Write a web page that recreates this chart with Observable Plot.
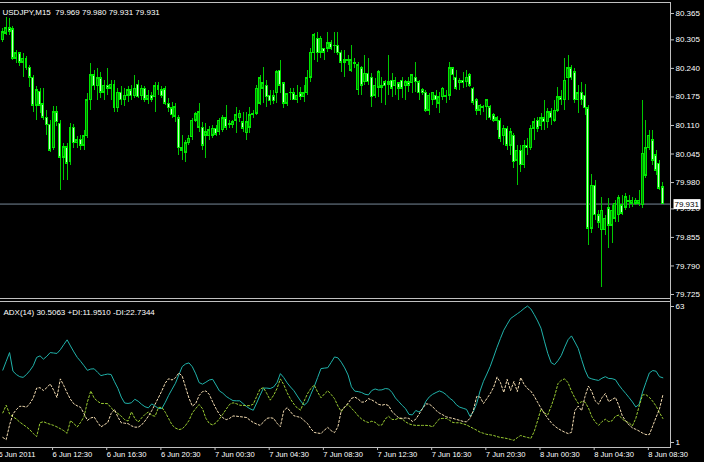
<!DOCTYPE html>
<html><head><meta charset="utf-8">
<script src="https://cdn.jsdelivr.net/npm/d3@7"></script>
<script src="https://cdn.jsdelivr.net/npm/@observablehq/plot@0.6"></script>
<style>
html,body{margin:0;padding:0;background:#000;}
#chart{position:relative;width:704px;height:462px;overflow:hidden;background:#000;}
#chart svg{display:block}
#chart svg text{white-space:pre}
#vline{position:absolute;left:670px;top:2px;width:1px;height:446px;background:#c0c0c0;}
</style></head><body><div id="chart"></div>
<script>
// USDJPY M15, 6 Jun 2011 08:45 .. 8 Jun 2011 09:30 (196 bars)
const open = [80.304,80.319,80.331,80.329,80.262,80.274,80.253,80.262,80.242,80.219,
80.155,80.187,80.158,80.128,80.112,80.058,80.140,80.114,80.037,80.060,
80.026,80.105,80.069,80.078,80.064,80.085,80.167,80.224,80.199,80.217,
80.185,80.201,80.194,80.203,80.149,80.185,80.167,80.178,80.190,80.176,
80.203,80.176,80.194,80.169,80.178,80.174,80.199,80.190,80.192,80.160,
80.149,80.130,80.126,80.058,80.048,80.069,80.083,80.121,80.105,80.105,
80.087,80.085,80.087,80.103,80.094,80.099,80.126,80.110,80.110,80.121,
80.126,80.117,80.092,80.105,80.133,80.137,80.160,80.194,80.201,80.178,
80.176,80.183,80.235,80.206,80.160,80.183,80.183,80.167,80.183,80.174,
80.183,80.219,80.274,80.308,80.276,80.285,80.285,80.297,80.290,80.292,
80.276,80.258,80.258,80.235,80.253,80.190,80.240,80.208,80.228,80.219,
80.178,80.196,80.201,80.208,80.203,80.212,80.199,80.206,80.212,80.199,
80.208,80.206,80.219,80.208,80.190,80.185,80.144,80.167,80.178,80.160,
80.174,80.178,80.178,80.240,80.219,80.206,80.212,80.208,80.224,80.194,
80.167,80.144,80.151,80.151,80.151,80.133,80.126,80.121,80.085,80.103,
80.064,80.087,80.030,80.053,80.019,80.064,80.058,80.103,80.121,80.108,
80.126,80.117,80.140,80.121,80.144,80.174,80.167,80.217,80.240,80.231,
80.167,80.185,80.178,80.149,79.875,79.973,79.905,79.871,79.871,79.921,
79.882,79.898,79.905,79.928,79.923,79.935,79.932,79.932,79.932,79.928,
79.996,80.058,80.076,80.042,80.023,79.969];

const high = [80.331,80.356,80.354,80.335,80.281,80.276,80.274,80.267,80.247,80.224,
80.199,80.194,80.194,80.144,80.121,80.153,80.153,80.121,80.069,80.069,
80.114,80.112,80.085,80.087,80.099,80.183,80.251,80.235,80.240,80.231,
80.212,80.240,80.212,80.212,80.194,80.199,80.194,80.199,80.201,80.224,
80.212,80.201,80.199,80.190,80.185,80.208,80.208,80.199,80.199,80.171,
80.162,80.160,80.133,80.087,80.076,80.087,80.126,80.140,80.160,80.117,
80.114,80.108,80.110,80.110,80.126,80.133,80.155,80.121,80.121,80.151,
80.144,80.140,80.140,80.151,80.144,80.201,80.224,80.242,80.212,80.190,
80.190,80.235,80.258,80.206,80.183,80.194,80.194,80.201,80.196,80.201,
80.235,80.285,80.319,80.322,80.313,80.285,80.322,80.304,80.322,80.322,
80.281,80.281,80.269,80.292,80.262,80.253,80.244,80.269,80.262,80.228,
80.217,80.235,80.219,80.212,80.269,80.228,80.219,80.208,80.219,80.212,
80.219,80.224,80.253,80.212,80.194,80.190,80.183,80.185,80.190,80.185,
80.196,80.190,80.253,80.242,80.235,80.217,80.231,80.235,80.228,80.196,
80.171,80.158,80.155,80.167,80.155,80.137,80.130,80.126,80.110,80.108,
80.103,80.092,80.064,80.064,80.076,80.080,80.110,80.126,80.128,80.137,
80.167,80.149,80.149,80.167,80.196,80.190,80.262,80.269,80.247,80.240,
80.201,80.208,80.203,80.155,79.998,79.985,79.916,79.946,79.905,79.944,
79.928,79.939,79.950,79.950,79.955,79.950,79.946,79.944,79.962,80.167,
80.121,80.099,80.099,80.053,80.030,79.980];

const low = [80.299,80.315,80.315,80.258,80.251,80.244,80.219,80.235,80.196,80.140,
80.121,80.137,80.121,80.087,80.048,80.053,80.108,79.962,79.985,79.985,
80.019,80.058,80.058,80.053,80.053,80.080,80.144,80.190,80.167,80.171,
80.167,80.178,80.167,80.140,80.140,80.155,80.153,80.162,80.167,80.171,
80.171,80.167,80.162,80.158,80.162,80.140,80.178,80.171,80.155,80.140,
80.126,80.117,80.042,80.030,80.026,80.064,80.076,80.117,80.094,80.053,
80.035,80.076,80.080,80.085,80.087,80.094,80.099,80.103,80.103,80.092,
80.117,80.094,80.076,80.092,80.126,80.133,80.155,80.160,80.151,80.155,
80.158,80.160,80.183,80.149,80.153,80.167,80.167,80.160,80.167,80.162,
80.178,80.208,80.258,80.253,80.262,80.258,80.276,80.281,80.274,80.269,
80.231,80.219,80.247,80.231,80.240,80.178,80.178,80.201,80.201,80.151,
80.171,80.174,80.160,80.155,80.178,80.174,80.178,80.167,80.171,80.167,
80.185,80.183,80.185,80.167,80.178,80.140,80.133,80.155,80.149,80.137,
80.167,80.160,80.167,80.212,80.190,80.190,80.194,80.196,80.196,80.155,
80.133,80.133,80.140,80.121,80.121,80.117,80.099,80.071,80.064,80.053,
80.042,80.012,79.973,80.003,80.012,80.042,80.053,80.076,80.094,80.099,
80.099,80.103,80.110,80.117,80.140,80.155,80.144,80.167,80.212,80.160,
80.137,80.155,80.133,79.837,79.864,79.893,79.875,79.741,79.859,79.830,
79.841,79.889,79.889,79.905,79.916,79.921,79.923,79.928,79.925,79.921,
79.989,80.053,80.019,79.996,79.962,79.931];

const close = [80.322,80.331,80.324,80.262,80.274,80.253,80.262,80.242,80.219,80.155,
80.190,80.155,80.128,80.110,80.053,80.140,80.117,80.037,80.060,80.023,
80.105,80.069,80.076,80.064,80.085,80.167,80.224,80.199,80.217,80.185,
80.201,80.194,80.203,80.149,80.185,80.167,80.178,80.190,80.176,80.194,
80.174,80.194,80.169,80.178,80.169,80.199,80.190,80.176,80.160,80.149,
80.133,80.151,80.058,80.053,80.069,80.080,80.121,80.135,80.140,80.064,
80.094,80.099,80.103,80.089,80.121,80.126,80.105,80.114,80.117,80.133,
80.137,80.103,80.117,80.133,80.137,80.194,80.217,80.206,80.174,80.165,
80.165,80.231,80.201,80.160,80.181,80.185,80.167,80.178,80.174,80.183,
80.217,80.276,80.315,80.274,80.308,80.276,80.297,80.285,80.292,80.274,
80.253,80.253,80.256,80.258,80.251,80.247,80.201,80.228,80.208,80.174,
80.201,80.231,80.196,80.199,80.208,80.194,80.212,80.194,80.194,80.208,
80.201,80.224,80.208,80.183,80.183,80.144,80.178,80.185,80.167,80.174,
80.194,80.174,80.240,80.224,80.194,80.212,80.206,80.219,80.201,80.162,
80.144,80.155,80.149,80.167,80.126,80.121,80.121,80.080,80.103,80.064,
80.094,80.026,80.053,80.019,80.064,80.058,80.103,80.117,80.103,80.126,
80.117,80.140,80.126,80.144,80.174,80.167,80.212,80.240,80.217,80.167,
80.183,80.167,80.149,79.875,79.973,79.905,79.889,79.916,79.898,79.882,
79.916,79.932,79.944,79.909,79.946,79.939,79.939,79.939,79.939,80.046,
80.058,80.087,80.030,80.007,79.966,79.931];

const adx = [34,38,42,33.5,32,31,30.7,32,33.8,36,39.8,40.5,39,40.3,42,41.8,41.6,43.3,45.6,47.8,
45,42.3,39.8,38,36,33.9,34.5,34.6,33,31.5,31.9,32.2,32,28.7,25.7,21.7,19,18.8,19.1,20.7,
19.8,18.4,17.3,16.8,18.6,17.6,16.5,16.5,19.3,22.5,25.3,28,31.8,35.6,36.8,37.3,35.5,32.3,28.3,27.6,
28.5,29.5,29.8,27.2,24.5,23.5,22,21,20.1,20,20,18.7,17.4,16.4,15.7,19,22.5,25.8,25.8,25.6,
26.3,28.3,32.4,30.6,28.2,26.3,24.6,22.2,19.9,18,19.3,23,26.5,30.6,34.7,34.9,35.1,37.5,40,39.6,
37.6,35,31.8,26.4,24.4,24.2,23.8,23,22.7,24.7,25.4,24.9,25,25.6,25.4,23.8,21.3,19.6,17.9,16.4,
13.8,13.6,15.6,14.9,16.5,19.8,21.8,23,23.8,24.5,23.9,22.8,21.2,20.1,18.2,17.1,16.6,16.1,13,15,
18.8,24.5,28.9,32.2,35.7,40,44.4,48.4,52.2,54.9,57.5,58.6,59.7,60.8,62.1,63.2,61.9,59.3,56.4,53.1,
47.2,41.6,37.4,36.5,38.3,40.7,44.5,47.9,49.6,46.8,43.9,38.8,34,30.6,30,29.6,29.3,30.3,31,30.2,
30.1,29.6,27.2,25.2,23.4,21.5,19.5,17.2,18.4,24,28.4,32.7,33.8,33.5,31,30.5];

const plusDI = [14.5,18,14,12.7,11.7,10.3,9.2,8.1,6.8,5.1,3.7,10,10.5,9.8,9.3,8.8,8.1,7.3,6.4,5.2,
11,9.6,8.1,10.2,12.8,19.5,24.5,21.2,19.8,18.8,18.8,18.7,16.8,15.3,14.2,13,11.4,10.8,15,12,
10.3,12.2,13.8,14.9,13.3,13,17,17,14.8,11.9,9,7.6,6.9,7.2,8.8,11,14.5,16.5,18.3,16.4,
12,9.7,9,10,11.8,13.9,16.2,18.4,19.1,18.7,18,17.9,17.8,17.8,18.5,22,25.4,26,23.3,20.3,
22.5,25.6,30,27.4,23.7,20.8,18.5,16.7,15.8,19.8,23.2,25.6,27.2,24,21.4,23.1,24.6,22.9,21,17.6,
15.1,17.1,18.4,16.6,15,13.1,11.7,10.7,10.1,10.7,10.2,8.9,9,11.8,12.9,11.5,11.5,12.1,11.7,10.4,
9.5,9,8.8,8.8,8.8,8.8,8.7,8.1,10,11.8,12,12,11.1,10.1,10,10,9.5,9,8.2,7.4,
6.6,5.7,5.2,4.7,4.5,4.2,3.7,3.3,3.1,2.8,2.4,2,3.2,4.2,3.7,3.3,2.9,6,11,16.3,
14.5,13.6,17.5,22,27.8,29.4,30,28.2,24.4,21.3,18.8,19.6,19.4,16.8,12.8,10.4,8.8,10.5,11.6,10.5,
10.9,13,13.5,11.7,10.6,10,8.6,12,17.6,22.7,22.8,21.6,19.8,17.6,14.6,11.95];

const minusDI = [3.3,2.3,9,14,16,17.5,17.5,17.1,18.8,21.3,25.8,26,24.7,26,27.7,24.9,21.5,30,27,23.6,
20.7,18.6,17.7,17,14.1,11.1,12.2,12.6,10.2,8.1,9.1,10.1,14.2,16.1,12.6,10,9.8,9.6,8.6,8,
8,9,10.8,13,15.5,18.5,21.5,24.6,28.1,30.1,29.5,30.5,32.7,31.3,26.2,21.2,17.6,18.8,22.4,24.2,
24.5,22.9,19.5,16.4,13.8,12.3,11.4,12,13.1,13,12.8,12.6,12.4,11.2,10.1,9.4,8.8,10.3,12,12.3,
12,9.8,8.2,15.5,16.9,15,13.2,12.8,12.4,11,9.7,7.3,5.6,5.3,5.1,6.6,7.9,6.4,5.5,8.2,
15.6,17.2,18.9,21.1,21.7,20.8,19.4,19.5,21,20.4,19.5,18.4,18,18.4,17.8,15,13.6,12.2,12,12.2,
12,10.6,11.6,14,16.5,18.6,18.5,17.3,15.6,14.4,13.6,12.7,12.3,12,11.5,11.1,10.6,10.4,12,15.5,
22,21.7,18.8,21,23.3,26.2,30.8,28.4,23.8,29.8,24.7,28.8,24.2,30.6,27.5,25.6,24.4,22.1,19.3,16.6,
14.2,12,10.1,8.5,7.4,6.5,5.7,5.1,5.6,15.5,17.6,15.5,22,26.7,24.2,20,18.5,21.4,23.3,19.6,
20.6,21.5,17.8,13.2,10.9,9,7.7,7,6.2,5.3,4.6,4.6,8.5,12.5,16.3,22.73];

const priceTicks = [80.365,80.305,80.240,80.175,80.110,80.045,79.980,79.920,79.855,79.790,79.725];
const adxTicks = [1, 63];
const timeLabels = ["6 Jun 2011","6 Jun 12:30","6 Jun 16:30","6 Jun 20:30","7 Jun 00:30","7 Jun 04:30","7 Jun 08:30","7 Jun 12:30","7 Jun 16:30","7 Jun 20:30","8 Jun 00:30","8 Jun 04:30","8 Jun 08:30"];
const timeBars = [-1,15,31,47,63,79,95,111,127,143,159,175,191]; // bar index of each label (every 16 M15 bars)
const header = "USDJPY,M15  79.969 79.980 79.931 79.931";
const adxHeader = "ADX(14) 30.5063 +DI:11.9510 -DI:22.7344";

const bars = close.map((c, i) => ({i, o: open[i], h: high[i], l: low[i], c}));
const last = close[close.length - 1];

const FONT = "'Liberation Sans', Arial, sans-serif";
const xDomain = [-0.6795, 197.253];
const yPrice = [79.7159, 80.3901];
const yAdx = [-1.28, 65.28];
const FG = "#c0c0c0";

const price = Plot.plot({
  width: 704, height: 299, marginLeft: 0, marginRight: 34, marginTop: 2, marginBottom: 1,
  style: {background: "#000", color: "#fff", fontFamily: FONT, fontSize: "8px"},
  x: {domain: xDomain, axis: null, label: null},
  y: {domain: yPrice, axis: null, label: null},
  marks: [
    Plot.ruleY(yPrice, {stroke: FG}),
    Plot.ruleY([last], {stroke: "#778899"}),
    Plot.ruleX(bars, {x: "i", y1: "l", y2: "h", stroke: "#00c800", shapeRendering: "crispEdges"}),
    Plot.rect(bars, {x1: d => d.i - 0.44, x2: d => d.i + 0.44, y1: "o", y2: "c", insetTop: -0.5, insetBottom: -0.5, fill: "#00e800", shapeRendering: "crispEdges"}),
    Plot.rect(bars, {x1: d => d.i - 0.44, x2: d => d.i + 0.44, y1: "o", y2: "c", inset: 1, fill: d => d.c > d.o ? "#008000" : "#c8ffc8", shapeRendering: "crispEdges"}),
    Plot.axisY(priceTicks, {anchor: "right", label: null, tickSize: 3, tickPadding: 2, tickFormat: d => d.toFixed(3), fontSize: 8, fill: "#fff", stroke: FG}),
    Plot.text([last], {y: d => d, frameAnchor: "right", dx: 4, textAnchor: "start", text: d => d.toFixed(3), fill: "#000", fontSize: 8}),
    Plot.text([header], {frameAnchor: "top-left", dx: 2, dy: 6.5, textAnchor: "start", fill: "#fff", fontSize: 8})
  ]
});

const lineData = adx.map((v, i) => ({i, adx: v, p: plusDI[i], m: minusDI[i]}));
const labelOf = new Map(timeBars.map((b, k) => [b, timeLabels[k]]));

const ind = Plot.plot({
  width: 704, height: 163, marginLeft: 0, marginRight: 34, marginTop: 2, marginBottom: 15,
  style: {background: "#000", color: "#fff", fontFamily: FONT, fontSize: "8px"},
  x: {domain: xDomain, axis: null, label: null},
  y: {domain: yAdx, axis: null, label: null},
  marks: [
    Plot.ruleY(yAdx, {stroke: FG}),
    Plot.line(lineData, {x: "i", y: "adx", stroke: "#20b2aa", strokeWidth: 1}),
    Plot.line(lineData, {x: "i", y: "p", stroke: "#9acd32", strokeWidth: 1, strokeDasharray: "2,2"}),
    Plot.line(lineData, {x: "i", y: "m", stroke: "#f5deb3", strokeWidth: 1, strokeDasharray: "2,2"}),
    Plot.axisY(adxTicks, {anchor: "right", label: null, tickSize: 3, tickPadding: 2, fontSize: 8, fill: "#fff", stroke: FG}),
    Plot.axisX(timeBars, {anchor: "bottom", label: null, tickSize: 3, tickPadding: 1, textAnchor: "start", dx: -1, tickFormat: d => labelOf.get(d), fontSize: 7.6, fill: "#fff", stroke: FG}),
    Plot.text([adxHeader], {frameAnchor: "top-left", dx: 3, dy: 7.5, textAnchor: "start", fill: "#fff", fontSize: 8})
  ]
});

const root = document.getElementById("chart");
root.appendChild(price);
root.appendChild(ind);
const vl = document.createElement("div"); vl.id = "vline"; root.appendChild(vl);

// white box behind the current price label
d3.select(price).selectAll("text").filter(function() {
  return this.textContent === last.toFixed(3) && (this.getAttribute("fill") === "#000" || d3.select(this.parentNode).attr("fill") === "#000");
}).each(function() {
  const b = this.getBBox();
  const t = this.getAttribute("transform");
  const r = document.createElementNS("http://www.w3.org/2000/svg", "rect");
  r.setAttribute("x", b.x - 1); r.setAttribute("y", b.y - 0.5);
  r.setAttribute("width", b.width + 2); r.setAttribute("height", b.height + 1);
  r.setAttribute("fill", "#fff");
  if (t) r.setAttribute("transform", t);
  this.parentNode.insertBefore(r, this);
});
</script></body></html>
